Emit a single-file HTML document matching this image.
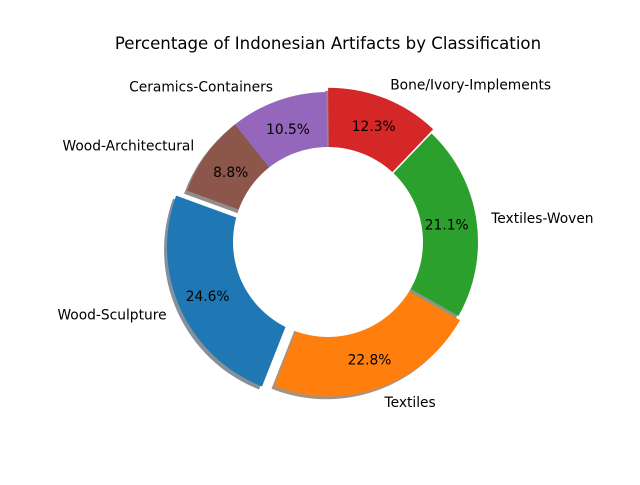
<!DOCTYPE html>
<html><head><meta charset="utf-8"><style>
body{margin:0;background:#fff}
svg text{font-family:"DejaVu Sans","Liberation Sans",sans-serif}
</style></head><body>
<svg id="chart" width="640" height="480" viewBox="0 0 640 480" xmlns="http://www.w3.org/2000/svg">
<rect width="640" height="480" fill="#fff"/>
<text x="328" y="49" text-anchor="middle" font-size="16.6" fill="#000">Percentage of Indonesian Artifacts by Classification</text>
<g id="shadows"></g><g id="wedges"></g>
<circle cx="328" cy="242" r="95" fill="#fff"/>
<g id="labels"></g>
</svg>
<script>
const categories = ["Wood-Sculpture","Textiles","Textiles-Woven","Bone/Ivory-Implements","Ceramics-Containers","Wood-Architectural"];
const values = [24.6,22.8,21.1,12.3,10.5,8.8];
const explodes = [0.08,0.03,0,0.03,0,0];
const colors = ["#1f77b4","#ff7f0e","#2ca02c","#d62728","#9467bd","#8c564b"];
const startAngle = 160;
const cx=328, cy=242, R=150, pctDist=0.8, labelDist=1.1;
const NS="http://www.w3.org/2000/svg";
const sh=document.getElementById('shadows'), wg=document.getElementById('wedges'), lg=document.getElementById('labels');
const total=values.reduce((a,b)=>a+b,0);
function pt(x,y,r,a){const t=a*Math.PI/180;return [x+r*Math.cos(t), y-r*Math.sin(t)];}
function wedgePath(x,y,a1,a2){
  const large=(a2-a1)>180?1:0;
  const p1=pt(x,y,R,a1),p2=pt(x,y,R,a2);
  return `M${x},${y} L${p1[0]},${p1[1]} A${R},${R} 0 ${large} 0 ${p2[0]},${p2[1]} Z`;
}
function dark(hex){const n=parseInt(hex.slice(1),16);return `rgb(${Math.round(((n>>16)&255)*0.3)},${Math.round(((n>>8)&255)*0.3)},${Math.round((n&255)*0.3)})`;}
let a=startAngle;
values.forEach((v,i)=>{
  const span=v/total*360, a1=a, a2=a+span, mid=(a1+a2)/2;
  const off=pt(0,0,explodes[i]*R,mid), x=cx+off[0], y=cy+off[1];
  const s=document.createElementNS(NS,'path');
  s.setAttribute('d',wedgePath(x-3,y+3,a1,a2));
  s.setAttribute('fill',dark(colors[i]));s.setAttribute('fill-opacity','0.5');
  
  
  sh.appendChild(s);
  const w=document.createElementNS(NS,'path');
  w.setAttribute('d',wedgePath(x,y,a1,a2));w.setAttribute('fill',colors[i]);
  
  
  wg.appendChild(w);
  const pp=pt(x,y,R*pctDist,mid);
  const t=document.createElementNS(NS,'text');
  t.setAttribute('x',pp[0]);t.setAttribute('y',pp[1]+5);t.setAttribute('text-anchor','middle');t.setAttribute('font-size','13.8');
  t.textContent=v.toFixed(1)+'%';
  
  
  lg.appendChild(t);
  const lp=pt(x,y,R*labelDist,mid);
  const l=document.createElementNS(NS,'text');
  l.setAttribute('x',lp[0]);l.setAttribute('y',lp[1]+5);
  l.setAttribute('text-anchor',Math.cos(mid*Math.PI/180)>=0?'start':'end');l.setAttribute('font-size','13.8');
  l.textContent=categories[i];
  
  
  lg.appendChild(l);
  a=a2;
});
</script>
</body></html>
